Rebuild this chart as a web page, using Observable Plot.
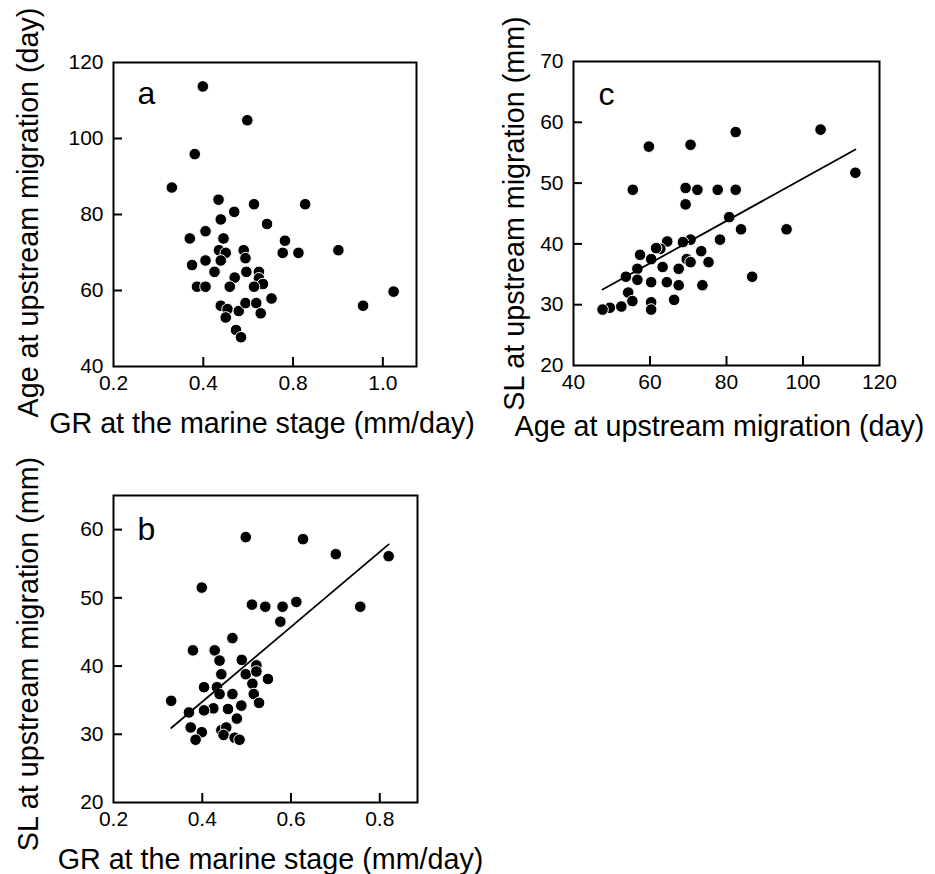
<!DOCTYPE html>
<html>
<head>
<meta charset="utf-8">
<script src="https://cdn.jsdelivr.net/npm/d3@7"></script>
<script src="https://cdn.jsdelivr.net/npm/@observablehq/plot@0.6"></script>
<style>
  html, body { margin: 0; padding: 0; background: white; }
  #wrap { position: relative; width: 935px; height: 874px; background: white; overflow: hidden; }
  #wrap > svg { position: absolute; overflow: visible; }
</style>
</head>
<body>
<div id="wrap"></div>
<script>
// ---------- Panel a: GR (mm/day) vs Age at upstream migration (day) ----------
const panelA_GR = [0.399,0.498,0.381,0.330,0.434,0.513,0.627,0.469,0.439,0.542,0.405,0.370,0.445,0.582,0.577,0.612,0.701,0.435,0.450,0.490,0.494,0.439,0.405,0.375,0.425,0.496,0.524,0.470,0.524,0.533,0.386,0.405,0.459,0.513,0.552,0.439,0.454,0.479,0.494,0.518,0.528,0.450,0.473,0.484,0.756,0.824];
const panelA_Age = [113.7,104.8,95.9,87.1,83.9,82.7,82.7,80.7,78.7,77.5,75.6,73.7,73.7,73.1,69.9,69.9,70.6,70.6,69.9,70.6,68.5,67.9,67.9,66.7,64.9,64.9,64.9,63.4,63.2,61.7,61.0,61.0,61.0,61.0,57.9,56.0,55.1,54.6,56.7,56.7,54.0,52.9,49.6,47.7,56.0,59.7];

// ---------- Panel b: GR (mm/day) vs SL at upstream migration (mm) ----------
const panelB_GR = [0.498,0.627,0.701,0.820,0.399,0.512,0.542,0.581,0.612,0.756,0.576,0.468,0.379,0.428,0.439,0.489,0.522,0.443,0.498,0.522,0.548,0.404,0.433,0.513,0.439,0.468,0.516,0.528,0.330,0.488,0.425,0.458,0.404,0.370,0.478,0.374,0.399,0.443,0.454,0.448,0.385,0.473,0.484];
const panelB_SL = [58.9,58.6,56.4,56.1,51.5,49.0,48.7,48.7,49.4,48.7,46.5,44.1,42.3,42.3,40.8,40.9,40.1,38.8,38.8,39.2,38.1,36.9,36.9,37.4,35.9,35.9,35.9,34.6,34.9,34.2,33.8,33.7,33.5,33.2,32.3,31.0,30.3,30.6,31.0,29.9,29.2,29.5,29.2];

// ---------- Panel c: Age (day) vs SL at upstream migration (mm) ----------
const panelC_Age = [104.6,82.4,70.6,59.7,113.7,55.5,69.3,72.4,77.7,82.4,69.3,80.7,83.8,95.7,78.3,70.6,68.6,64.5,62.7,61.6,73.4,57.4,60.3,69.6,70.6,75.3,63.3,56.7,67.5,53.7,56.7,60.3,64.4,67.5,73.7,86.7,54.3,55.4,66.3,60.3,60.3,52.5,49.5,47.6];
const panelC_SL = [58.8,58.4,56.3,56.0,51.7,48.9,49.2,48.9,48.9,48.9,46.5,44.4,42.4,42.4,40.7,40.7,40.3,40.4,39.2,39.3,38.8,38.2,37.5,37.5,37.0,37.0,36.2,35.9,35.9,34.6,34.1,33.7,33.7,33.2,33.2,34.6,32.0,30.6,30.8,30.4,29.2,29.7,29.5,29.2];

// ---------- Ticks and labels ----------
const aXTicks = [0.2, 0.4, 0.6, 0.8];
const aXTickLabels = ["0.2", "0.4", "0.8", "1.0"];   // as printed in the original figure
const aYTicks = [40, 60, 80, 100, 120];
const bXTicks = [0.2, 0.4, 0.6, 0.8];
const bXTickLabels = ["0.2", "0.4", "0.6", "0.8"];
const bYTicks = [20, 30, 40, 50, 60];
const cXTicks = [40, 60, 80, 100, 120];
const cYTicks = [20, 30, 40, 50, 60, 70];

const panelLetters = ["a", "b", "c"];
const labelGR = "GR at the marine stage (mm/day)";
const labelAge = "Age at upstream migration (day)";
const labelSL = "SL at upstream migration (mm)";

const FONT = "'Liberation Sans', Arial, Helvetica, sans-serif";
const TICK = 9;

function panel({x, y, xDomain, yDomain, xTicks, xFmt, yTicks, yFmt, xLabel, yLabel, letter,
                width, height, margins, regression, xLabelD, yLabelD, letterD}) {
  const data = x.map((v, i) => ({x: v, y: y[i]}));
  const innerW = width - margins[0] - margins[2];
  const innerH = height - margins[1] - margins[3];
  const innerXTicks = xTicks.filter(t => t > xDomain[0] + 1e-9 && t < xDomain[1] - 1e-9);
  const innerYTicks = yTicks.filter(t => t > yDomain[0] + 1e-9 && t < yDomain[1] - 1e-9);
  const marks = [
    // inward tick marks (short rules anchored on the bottom / left frame edge)
    Plot.ruleX(innerXTicks, {x: d => d, insetTop: innerH - TICK, stroke: "black", strokeWidth: 2}),
    Plot.ruleY(innerYTicks, {y: d => d, insetRight: innerW - TICK, stroke: "black", strokeWidth: 2}),
    // tick labels
    Plot.axisX({ticks: xTicks, tickSize: 0, tickPadding: 9, tickFormat: xFmt, label: null, fontSize: 21}),
    Plot.axisY({ticks: yTicks, tickSize: 0, tickPadding: 10, tickFormat: yFmt, label: null, fontSize: 21}),
    Plot.dot(data, {x: "x", y: "y", r: 5.8, fill: "black", stroke: "white", strokeWidth: 1})
  ];
  if (regression) {
    marks.push(Plot.linearRegressionY(data, {x: "x", y: "y", ci: 0, stroke: "black", strokeWidth: 1.8}));
  }
  marks.push(
    Plot.frame({stroke: "black", strokeWidth: 2}),
    Plot.text([xLabel], {frameAnchor: "bottom", text: d => d, fontSize: 28.7, textAnchor: "middle", lineAnchor: "middle", dx: xLabelD[0], dy: xLabelD[1], fill: "black"}),
    Plot.text([yLabel], {frameAnchor: "left", text: d => d, fontSize: 28.7, rotate: -90, textAnchor: "middle", lineAnchor: "middle", dx: yLabelD[0], dy: yLabelD[1], fill: "black"}),
    Plot.text([letter], {frameAnchor: "top-left", text: d => d, fontSize: 32, textAnchor: "start", lineAnchor: "bottom", dx: letterD[0], dy: letterD[1], fill: "black"})
  );
  return Plot.plot({
    width, height,
    marginLeft: margins[0], marginTop: margins[1], marginRight: margins[2], marginBottom: margins[3],
    x: {domain: xDomain, axis: null},
    y: {domain: yDomain, axis: null},
    style: {fontFamily: FONT, fontSize: "21px", color: "black", background: "transparent", overflow: "visible"},
    marks
  });
}

const fmtMap = (ticks, labels) => { const m = new Map(ticks.map((t, i) => [t, labels[i]])); return d => m.get(d); };

const wrap = document.getElementById("wrap");

const pa = panel({
  x: panelA_GR, y: panelA_Age, xDomain: [0.2, 0.875], yDomain: [40, 120],
  xTicks: aXTicks, xFmt: fmtMap(aXTicks, aXTickLabels), yTicks: aYTicks, yFmt: d => String(d),
  xLabel: labelGR, yLabel: labelAge, letter: panelLetters[0],
  width: 470, height: 445, margins: [113, 62, 54, 79], regression: false,
  xLabelD: [-3, 57], yLabelD: [-85, -2], letterD: [24, 41]
});
pa.style.left = "0px"; pa.style.top = "0px";
wrap.appendChild(pa);

const pc = panel({
  x: panelC_Age, y: panelC_SL, xDomain: [40, 120], yDomain: [20, 70],
  xTicks: cXTicks, xFmt: d => String(d), yTicks: cYTicks, yFmt: d => String(d),
  xLabel: labelAge, yLabel: labelSL, letter: panelLetters[2],
  width: 465, height: 445, margins: [103, 61, 56, 80], regression: true,
  xLabelD: [-7, 61], yLabelD: [-59, 0], letterD: [25, 43]
});
pc.style.left = "470px"; pc.style.top = "0px";
wrap.appendChild(pc);

const pb = panel({
  x: panelB_GR, y: panelB_SL, xDomain: [0.2, 0.885], yDomain: [20, 65],
  xTicks: bXTicks, xFmt: fmtMap(bXTicks, bXTickLabels), yTicks: bYTicks, yFmt: d => String(d),
  xLabel: labelGR, yLabel: labelSL, letter: panelLetters[1],
  width: 470, height: 429, margins: [113, 50, 53, 72], regression: true,
  xLabelD: [5, 57], yLabelD: [-85, 5], letterD: [24, 44]
});
pb.style.left = "0px"; pb.style.top = "445px";
wrap.appendChild(pb);
</script>
</body>
</html>
